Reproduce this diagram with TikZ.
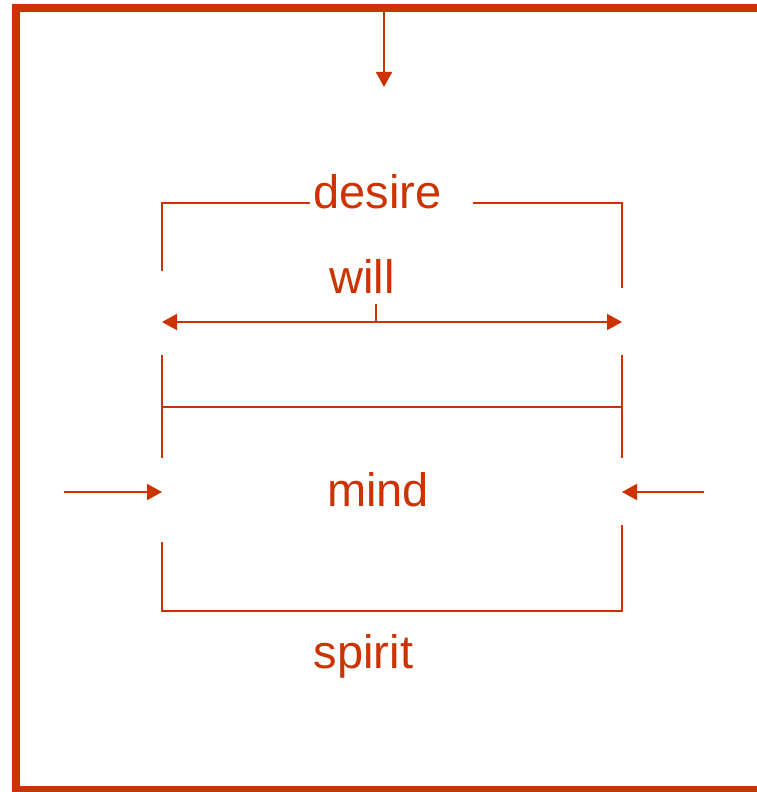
\documentclass[tikz,border=0pt]{standalone}
\usepackage{fontspec}
\setmainfont{Liberation Sans}
\usepackage{tikz}
\usetikzlibrary{arrows.meta, positioning, calc}
\definecolor{rust}{RGB}{204,51,0}

\begin{document}
\begin{tikzpicture}[
    x=0.5pt, y=-0.5pt,
    word/.style={font=\fontsize{23.5}{28}\selectfont, text=rust, inner sep=0pt, anchor=base},
    bar/.style={draw=rust, line width=1pt},
    pointer/.style={bar, -{Triangle[length=7.5pt, width=8pt]}},
    outer/.style={draw=rust, line width=4pt}
]
\useasboundingbox (0,0) rectangle (756,792);

% Frame
\draw[outer] (780,8) -- (16,8) -- (16,790) -- (780,790);

% Nodes
\node [word] (desire) at (377.5,208) {desire};
\node [word] (will) at (362,293) {will};
\node [word] (mind) at (378,506) {mind};
\node [word] (spirit) at (363.5,668) {spirit};

% Points
\coordinate (top-in) at (384,12);
\coordinate (top-tip) at (384,87);
\coordinate (will-left) at (162,322);
\coordinate (will-right) at (622,322);
\coordinate (will-tick) at (376,304);
\coordinate (left-in) at (63.5,492);
\coordinate (left-tip) at (162,492);
\coordinate (right-in) at (704,492);
\coordinate (right-tip) at (622,492);

% Brackets
\draw[bar] (162,271) -- (162,203) -- (310,203);
\draw[bar] (473,203) -- (622,203) -- (622,288);
\draw[bar] (162,355) -- (162,458);
\draw[bar] (622,355) -- (622,458);
\draw[bar] (162,407) -- (622,407);
\draw[bar] (162,542) -- (162,611) -- (622,611) -- (622,525);

% Arrows
\draw[pointer] (top-in) -- (top-tip);
\draw[bar, {Triangle[length=7.5pt, width=8pt]}-{Triangle[length=7.5pt, width=8pt]}] (will-left) -- (will-right);
\draw[bar] (will-tick) -- (will-tick |- will-left);
\draw[pointer] (left-in) -- (left-tip);
\draw[pointer] (right-in) -- (right-tip);
\end{tikzpicture}
\end{document}
